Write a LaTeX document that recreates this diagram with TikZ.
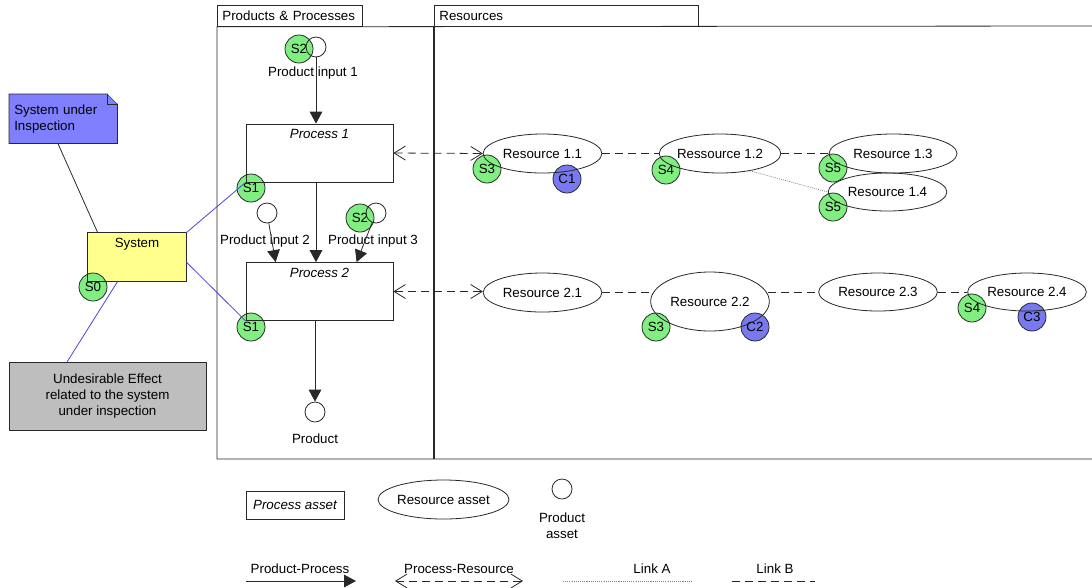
\documentclass[tikz,border=0pt]{standalone}
\usepackage{fontspec}
\setmainfont{Liberation Sans}
\usetikzlibrary{shapes.geometric,arrows.meta,calc}

\definecolor{badgegreen}{RGB}{128,238,128}
\definecolor{badgeblue}{RGB}{120,120,240}
\definecolor{noteblue}{RGB}{128,128,255}
\definecolor{sysyellow}{RGB}{255,255,140}
\definecolor{effectgray}{RGB}{190,190,190}
\definecolor{linkblue}{RGB}{70,70,220}
\definecolor{outline}{RGB}{40,40,40}

\tikzset{
  every node/.append style={font=\fontsize{10}{12}\selectfont},
  base/.style={line width=0.6pt, draw=outline},
  sbadge/.style={circle, base, fill=badgegreen, minimum size=21pt, inner sep=0pt},
  cbadge/.style={circle, base, fill=badgeblue, minimum size=21pt, inner sep=0pt},
  prodasset/.style={circle, base, minimum size=15pt, inner sep=0pt},
  resasset/.style={ellipse, base, inner sep=0pt, minimum width=89pt, minimum height=29.25pt},
  procasset/.style={rectangle, base, minimum width=110.25pt, minimum height=43.5pt, inner sep=0pt},
  toplabel/.style={label={[anchor=north, inner sep=4pt, font=\fontsize{10}{12}\selectfont\itshape]north:#1}},
  hdr/.style={rectangle, base, anchor=north west, minimum height=15.75pt, inner xsep=3.75pt, inner ysep=0pt, align=left},
  flow/.style={line width=0.6pt, draw=outline, -{Triangle[width=9.5pt,length=9pt]}},
  pr/.style={line width=0.6pt, draw=outline, dash pattern=on 6pt off 3.75pt,
             {Straight Barb[length=8.5pt,width=10.5pt]}-{Straight Barb[length=8.5pt,width=10.5pt]}},
  linkb/.style={line width=0.6pt, draw=outline, dash pattern=on 6pt off 3.75pt},
  linka/.style={line width=0.5pt, draw=gray, dash pattern=on 0.8pt off 0.8pt},
  bluelink/.style={line width=0.6pt, draw=linkblue},
}

\begin{document}
\begin{tikzpicture}[x=0.75pt, y=-0.75pt]
\useasboundingbox (0,0) rectangle (1092,587);

% ---------- pool headers and frame ----------
\node[hdr, minimum width=108.75pt, text width=101.25pt] (hpp) at (217,5) {Products \& Processes};
\node[hdr, minimum width=198pt, text width=190.5pt] (hres) at (434,5) {Resources};
\coordinate (poolne) at (1092,26);
\coordinate (poolsw) at (217,459);
\coordinate (poolse) at (1092,459);
\draw[base] (poolne) -- (hpp.south west) -- (poolsw) -- (poolse);
\draw[line width=1.3pt, draw=outline] (hres.south west) -- (hres.south west |- poolsw);

% ---------- system side ----------
\node[rectangle, fill=noteblue, draw=none, minimum width=81pt, minimum height=36.75pt,
      anchor=north west, inner sep=3.75pt, text width=73.5pt, align=left] (note) at (9,94)
      {System under\\Inspection};
\draw[base] (note.north west) -- ([xshift=-7.5pt]note.north east)
  -- ([yshift=-7.5pt]note.north east) -- (note.south east) -- (note.south west) -- cycle;
\fill[white] ([xshift=-7.5pt]note.north east) -- (note.north east) -- ([yshift=-7.5pt]note.north east) -- cycle;
\draw[base] ([xshift=-7.5pt]note.north east) -- ([xshift=-7.5pt, yshift=-7.5pt]note.north east)
  -- ([yshift=-7.5pt]note.north east);

\node[rectangle, fill=sysyellow, minimum width=73.5pt, minimum height=36pt, inner sep=0pt,
      label={[anchor=north, inner sep=4pt]north:System}] (sys) at (137,257) {};
\node[sbadge] (s0) at (93,287) {S0};
\draw[base] (sys.north west) rectangle (sys.south east);

\node[rectangle, base, fill=effectgray, minimum width=147.75pt, minimum height=51pt,
      align=center, inner sep=0pt] (effect) at (107.5,396)
      {Undesirable Effect\\related to the system\\under inspection};

\draw[base] ([xshift=-4pt]note.south) -- ([xshift=7.5pt]sys.north west);
\draw[bluelink] ([xshift=22.5pt]sys.south west) -- ([xshift=44pt]effect.north west);

% ---------- products and processes ----------
\node[sbadge] (s2a) at (299,49) {S2};
\node[prodasset] (in1) at (316,47) {};
\node at (313,73) {Product input 1};

\node[sbadge] (s1a) at (251,188) {S1};
\node[procasset, toplabel=Process 1] (p1) at (319.5,153) {};

\node[prodasset] (in2) at (267,213) {};
\node[sbadge] (s2b) at (360,218) {S2};
\node[prodasset] (in3) at (376,213) {};
\node at (265,241) {Product input 2};
\node at (373,241) {Product input 3};

\node[sbadge] (s1b) at (251,327) {S1};
\node[procasset, toplabel=Process 2] (p2) at (319.5,291.5) {};

\node[prodasset] (out) at (315,412) {};
\node at (315,439) {Product};

\draw[flow] (in1) -- (in1 |- p1.north);
\draw[flow] (in1 |- p1.south) -- (in1 |- p2.north);
\draw[flow] (in2) -- ([xshift=22.5pt]p2.north west);
\draw[flow] (in3) -- ([xshift=83.25pt]p2.north west);
\draw[flow] (out |- p2.south) -- (out.north);

\draw[bluelink] (sys.north east) -- (p1.south west);
\draw[bluelink] ([yshift=-3.75pt]sys.east) -- (p2.south west);

% ---------- resources ----------
\node[sbadge] (s3a) at (487,169) {S3};
\node[cbadge] (c1) at (567,179) {C1};
\node[resasset] (r11) at (542.5,153.5) {Resource 1.1};

\node[sbadge] (s4a) at (666,170) {S4};
\node[resasset] (r12) at (720,153.5) {Ressource 1.2};

\node[sbadge] (s5a) at (833,168) {S5};
\node[resasset, minimum width=96pt] (r13) at (893,153.5) {Resource 1.3};

\node[sbadge] (s5b) at (833,207) {S5};
\node[resasset, minimum height=28.5pt] (r14) at (887.5,192) {Resource 1.4};

\node[resasset] (r21) at (542.5,292.5) {Resource 2.1};

\node[sbadge] (s3b) at (656,327) {S3};
\node[cbadge] (c2) at (755,327) {C2};
\node[resasset, minimum height=44.25pt] (r22) at (710,301.5) {Resource 2.2};

\node[resasset, minimum height=28.5pt] (r23) at (878,292) {Resource 2.3};

\node[sbadge] (s4b) at (972,308) {S4};
\node[cbadge] (c3) at (1032,317) {C3};
\node[resasset, minimum height=28.5pt] (r24) at (1027,292) {Resource 2.4};

\draw[pr] (p1.east) -- (r11.west);
\draw[pr] (p2.east) -- (p2.east -| r21.west);
\draw[linkb] (r11.east) -- (r12.west);
\draw[linkb] (r12.east) -- (r13.west);
\draw[linkb] (r21.east) -- ([xshift=1.5pt]r21.east -| r22.west);
\draw[linkb] ([xshift=-1.5pt]r22.east |- r23.west) -- (r23.west);
\draw[linkb] (r23.east) -- (r24.west);
\draw[linka] (r12.-30) -- (r14.west);

% ---------- legend ----------
\node[rectangle, base, minimum width=73.5pt, minimum height=21pt, inner sep=0pt,
      font=\fontsize{10}{12}\selectfont\itshape] (lproc) at (295,505) {Process asset};
\node[resasset] (lres) at (443.5,499.5) {Resource asset};
\node[prodasset] (lprod) at (562,489) {};
\node[align=center, inner sep=0pt] (lprodtxt) at (562,526) {Product\\asset};

\node (tpp) at (300,569) {Product-Process};
\node (tpr) at (459,569) {Process-Resource};
\node (tla) at (652,569) {Link A};
\node (tlb) at (775,569) {Link B};

\coordinate (lpp1) at (246,581);
\coordinate (lpp2) at (356,581);
\coordinate (lpr1) at (395,581);
\coordinate (lpr2) at (523,581);
\coordinate (lla1) at (563,581);
\coordinate (lla2) at (692,581);
\coordinate (llb1) at (732,581);
\coordinate (llb2) at (815,581);
\draw[flow] (lpp1) -- (lpp2);
\draw[pr] (lpr1) -- (lpr2);
\draw[linka] (lla1) -- (lla2);
\draw[linkb] (llb1) -- (llb2);
\end{tikzpicture}
\end{document}
